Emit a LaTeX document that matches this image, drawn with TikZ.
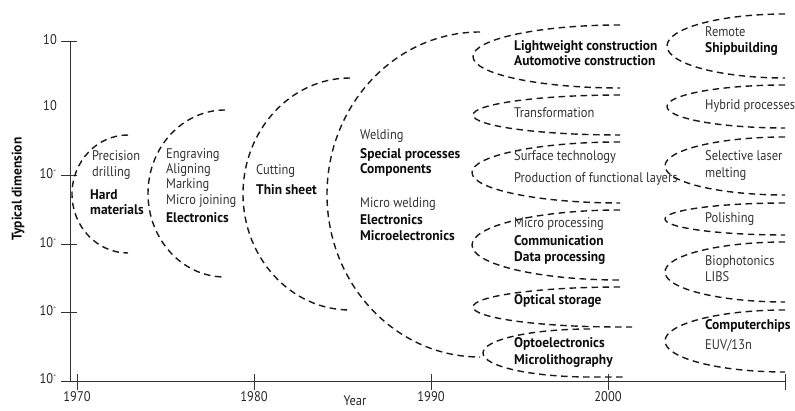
\documentclass[tikz,border=0pt]{standalone}
\usepackage{fontspec}
\setmainfont[FakeStretch=0.89, BoldFeatures={FakeStretch=0.96}]{PT Sans}
\newcommand{\fs}{\fontsize{14}{16}\selectfont}
\begin{document}
\begin{tikzpicture}[x=1pt,y=1pt,
  ax/.style={draw=black!80, line width=1pt},
  dsh/.style={draw=black!90, line width=1.4pt, dash pattern=on 6.5pt off 4.5pt},
  lbl/.style={anchor=mid west, inner sep=0pt, text=black!80, font=\fs},
  blbl/.style={lbl, text=black!95, font=\fs\bfseries},
  tlab/.style={inner sep=0pt, text=black!85, font=\fs},
  ylab/.style={anchor=mid east, inner sep=0pt, text=black!85, font=\fs}]
\useasboundingbox (0,0) rectangle (795,-411);
% axes
\draw[ax] (70,-42) -- (70,-382);
\draw[ax] (65,-382) -- (785,-382);
\foreach \y in {42,176,245,313,382} \draw[ax] (61,-\y) -- (77,-\y);
\foreach \x in {77,254,431,608,785} \draw[ax] (\x,-374) -- (\x,-390);
\node[ylab] (y1) at (57,-42) {10};
\node[ylab] (y2) at (57,-108) {10};
\node[ylab] (y3) at (57,-176) {10\textsuperscript{-}};
\node[ylab] (y4) at (57,-245) {10\textsuperscript{-}};
\node[ylab] (y5) at (57,-313) {10\textsuperscript{-}};
\node[ylab] (y6) at (57,-381) {10\textsuperscript{-}};
\node[tlab] (x1) at (77,-397) {1970};
\node[tlab] (x2) at (254,-397) {1980};
\node[tlab] (x3) at (431,-397) {1990};
\node[tlab] (x4) at (608,-397) {2000};
\node[tlab] (xl) at (355,-401) {Year};
\node[tlab, rotate=90, font=\fs\bfseries, text=black!95] (yl) at (18,-189) {Typical dimension};
% dashed regions
\draw[dsh] (128,-135) arc[start angle=90,end angle=270,x radius=56,y radius=59];
\draw[dsh] (225,-110) arc[start angle=90,end angle=270,x radius=77,y radius=83.5];
\draw[dsh] (350,-78) arc[start angle=90,end angle=270,x radius=107,y radius=116];
\draw[dsh] (480,-32) arc[start angle=90,end angle=270,x radius=153,y radius=162.5];
\draw[dsh] (620,-25) arc[start angle=90,end angle=270,x radius=147,y radius=31.5];
\draw[dsh] (620,-95) arc[start angle=90,end angle=270,x radius=147,y radius=20];
\draw[dsh] (620,-142) arc[start angle=90,end angle=270,x radius=148,y radius=30.5];
\draw[dsh] (620,-210) arc[start angle=90,end angle=270,x radius=148,y radius=35];
\draw[dsh] (620,-287) arc[start angle=90,end angle=270,x radius=147,y radius=20] -- (632,-327);
\draw[dsh] (590,-329) arc[start angle=90,end angle=270,x radius=107,y radius=24] -- (625,-377);
\draw[dsh] (785,-14) arc[start angle=90,end angle=270,x radius=118,y radius=32];
\draw[dsh] (785,-85) arc[start angle=90,end angle=270,x radius=118,y radius=21.5];
\draw[dsh] (785,-137) arc[start angle=90,end angle=270,x radius=120,y radius=29];
\draw[dsh] (785,-203) arc[start angle=90,end angle=270,x radius=120,y radius=16];
\draw[dsh] (785,-242) arc[start angle=90,end angle=270,x radius=120,y radius=30];
\draw[dsh] (785,-310) arc[start angle=90,end angle=270,x radius=120,y radius=31];
% texts
\node[lbl] (a1) at (92,-158) {Precision};
\node[lbl] (a2) at (92,-174) {drilling};
\node[blbl] (a3) at (90,-197) {Hard};
\node[blbl] (a4) at (90,-212) {materials};
\node[lbl] (b1) at (166,-156) {Engraving};
\node[lbl] (b2) at (166,-171) {Aligning};
\node[lbl] (b3) at (166,-186) {Marking};
\node[lbl] (b4) at (166,-202) {Micro joining};
\node[blbl] (b5) at (166,-220) {Electronics};
\node[lbl] (c1) at (256,-172) {Cutting};
\node[blbl] (c2) at (256,-192) {Thin sheet};
\node[lbl] (d1) at (360,-137) {Welding};
\node[blbl] (d2) at (360,-156) {Special processes};
\node[blbl] (d3) at (360,-171) {Components};
\node[lbl] (d4) at (360,-205) {Micro welding};
\node[blbl] (d5) at (360,-222) {Electronics};
\node[blbl] (d6) at (360,-238) {Microelectronics};
\node[blbl] (e1) at (514,-48) {Lightweight construction};
\node[blbl] (e2) at (514,-63) {Automotive construction};
\node[lbl] (e3) at (514,-115) {Transformation};
\node[lbl] (e4) at (514,-158) {Surface technology};
\node[lbl] (e5) at (514,-180) {Production of functional layers};
\node[lbl] (e6) at (514,-225) {Micro processing};
\node[blbl] (e7) at (514,-243) {Communication};
\node[blbl] (e8) at (514,-259) {Data processing};
\node[blbl] (e9) at (514,-302) {Optical storage};
\node[blbl] (e10) at (514,-345) {Optoelectronics};
\node[blbl] (e11) at (514,-362) {Microlithography};
\node[lbl] (f1) at (705,-34) {Remote};
\node[blbl] (f2) at (705,-50) {Shipbuilding};
\node[lbl] (f3) at (705,-107) {Hybrid processes};
\node[lbl] (f4) at (705,-158) {Selective laser};
\node[lbl] (f5) at (705,-175) {melting};
\node[lbl] (f6) at (705,-220) {Polishing};
\node[lbl] (f7) at (705,-263) {Biophotonics};
\node[lbl] (f8) at (705,-279) {LIBS};
\node[blbl] (f9) at (705,-327) {Computerchips};
\node[lbl] (f10) at (705,-347) {EUV/13n};
\end{tikzpicture}
\end{document}
